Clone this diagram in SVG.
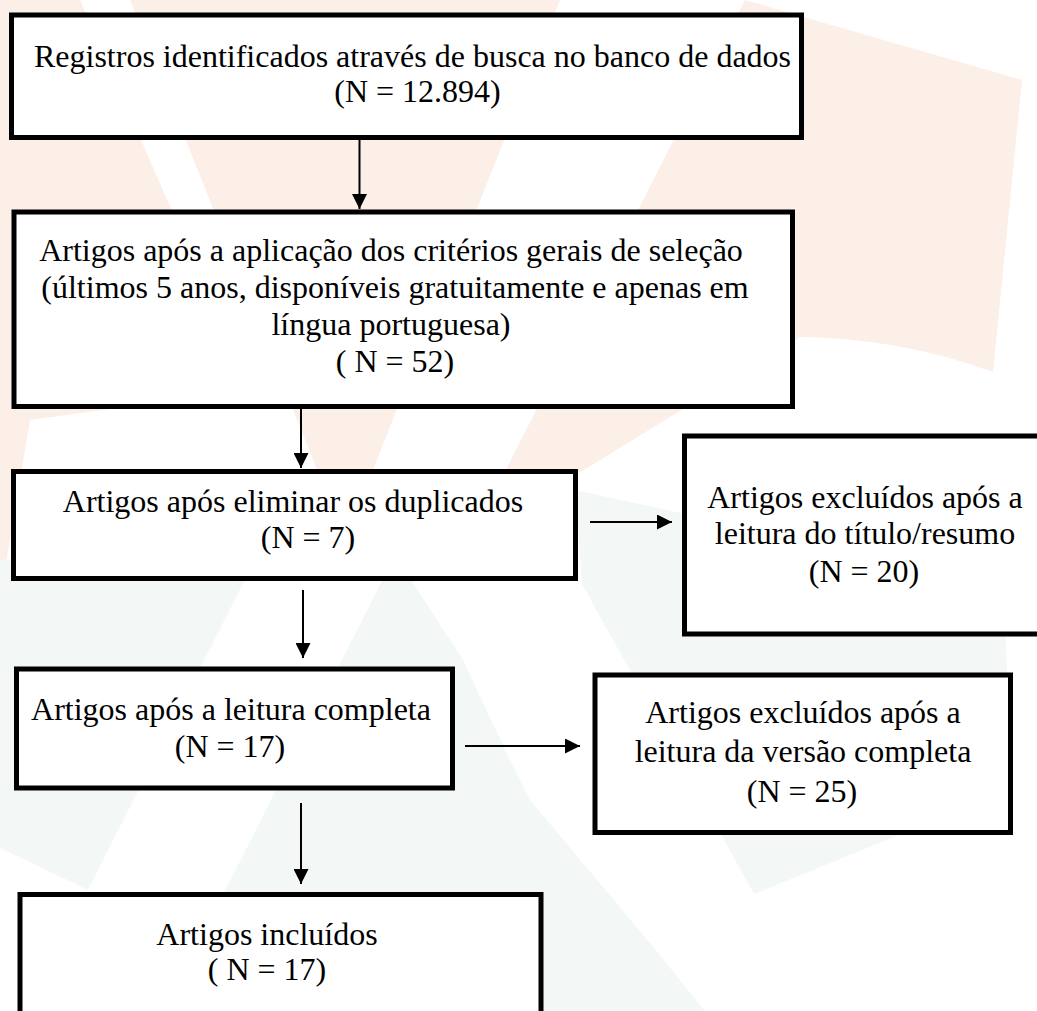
<svg xmlns="http://www.w3.org/2000/svg" width="1037" height="1011" viewBox="0 0 1037 1011">
  <style>
    .box { fill: #ffffff; stroke: #000000; stroke-width: 5; }
    .lbl { font-size: 32px; fill: #000000; text-anchor: middle; }
    .conn { stroke: #000000; stroke-width: 2; fill: none; marker-end: url(#arrow); }
    .peach { fill: #fcefe8; }
    .teal { fill: #f3f8f6; }
  </style>
  <defs>
    <marker id="arrow" markerUnits="userSpaceOnUse" markerWidth="15" markerHeight="15" refX="15" refY="7.5" orient="auto">
      <path d="M0,0 L15,7.5 L0,15 Z" fill="#000000"/>
    </marker>
  </defs>
  <rect x="0" y="0" width="1037" height="1011" fill="#ffffff"/>
  <g id="watermark">
    <polygon class="peach" points="0,0 80,0 250,390 30,420 0,600"/>
    <polygon class="peach" points="130,0 560,0 345,540"/>
    <path class="peach" d="M745,0 L1022,80 L993,372 Q900,338 800,337 L470,540 Z"/>
    <polygon class="teal" points="0,560 265,540 88,890 0,848"/>
    <path class="teal" d="M395,555 L463,660 Q500,740 530,800 L655,949 L705,1011 L164,1011 Z"/>
    <polygon class="teal" points="575,490 690,515 1005,600 1010,790 754,894 582,584"/>
  </g>
  <g id="connectors">
    <line class="conn" x1="359.5" y1="139" x2="359.5" y2="209"/>
    <line class="conn" x1="301" y1="404" x2="301" y2="468"/>
    <line class="conn" x1="590" y1="522" x2="672" y2="522"/>
    <line class="conn" x1="303" y1="590" x2="303" y2="658"/>
    <line class="conn" x1="465" y1="746" x2="580" y2="746"/>
    <line class="conn" x1="301" y1="803" x2="301" y2="884"/>
  </g>
  <g font-family="'Liberation Serif', 'DejaVu Serif', serif">
  <g id="node-registros">
    <rect class="box" x="11.5" y="15" width="790" height="122.5"/>
    <text class="lbl" x="412.5" y="67">Registros identificados através de busca no banco de dados</text>
    <text class="lbl" x="417.5" y="102">(N = 12.894)</text>
  </g>
  <g id="node-criterios">
    <rect class="box" x="14" y="212" width="778.5" height="194.5"/>
    <text class="lbl" x="391" y="261">Artigos após a aplicação dos critérios gerais de seleção</text>
    <text class="lbl" x="395" y="298">(últimos 5 anos, disponíveis gratuitamente e apenas em</text>
    <text class="lbl" x="391" y="335">língua portuguesa)</text>
    <text class="lbl" x="395" y="372">( N = 52)</text>
  </g>
  <g id="node-duplicados">
    <rect class="box" x="13.5" y="471.5" width="562" height="107"/>
    <text class="lbl" x="293" y="512">Artigos após eliminar os duplicados</text>
    <text class="lbl" x="308" y="548">(N = 7)</text>
  </g>
  <g id="node-excluidos-titulo">
    <rect class="box" x="684.5" y="436" width="362" height="198"/>
    <text class="lbl" x="865" y="508">Artigos excluídos após a</text>
    <text class="lbl" x="865" y="544">leitura do título/resumo</text>
    <text class="lbl" x="864" y="582">(N = 20)</text>
  </g>
  <g id="node-leitura-completa">
    <rect class="box" x="16.5" y="669" width="436" height="119"/>
    <text class="lbl" x="231" y="720">Artigos após a leitura completa</text>
    <text class="lbl" x="230" y="757">(N = 17)</text>
  </g>
  <g id="node-excluidos-versao">
    <rect class="box" x="595" y="675" width="415.5" height="157.5"/>
    <text class="lbl" x="803" y="723">Artigos excluídos após a</text>
    <text class="lbl" x="803" y="762">leitura da versão completa</text>
    <text class="lbl" x="802" y="802">(N = 25)</text>
  </g>
  <g id="node-incluidos">
    <rect class="box" x="20" y="894.5" width="521" height="130"/>
    <text class="lbl" x="267" y="945">Artigos incluídos</text>
    <text class="lbl" x="267" y="980">( N = 17)</text>
  </g>
  </g>
</svg>
